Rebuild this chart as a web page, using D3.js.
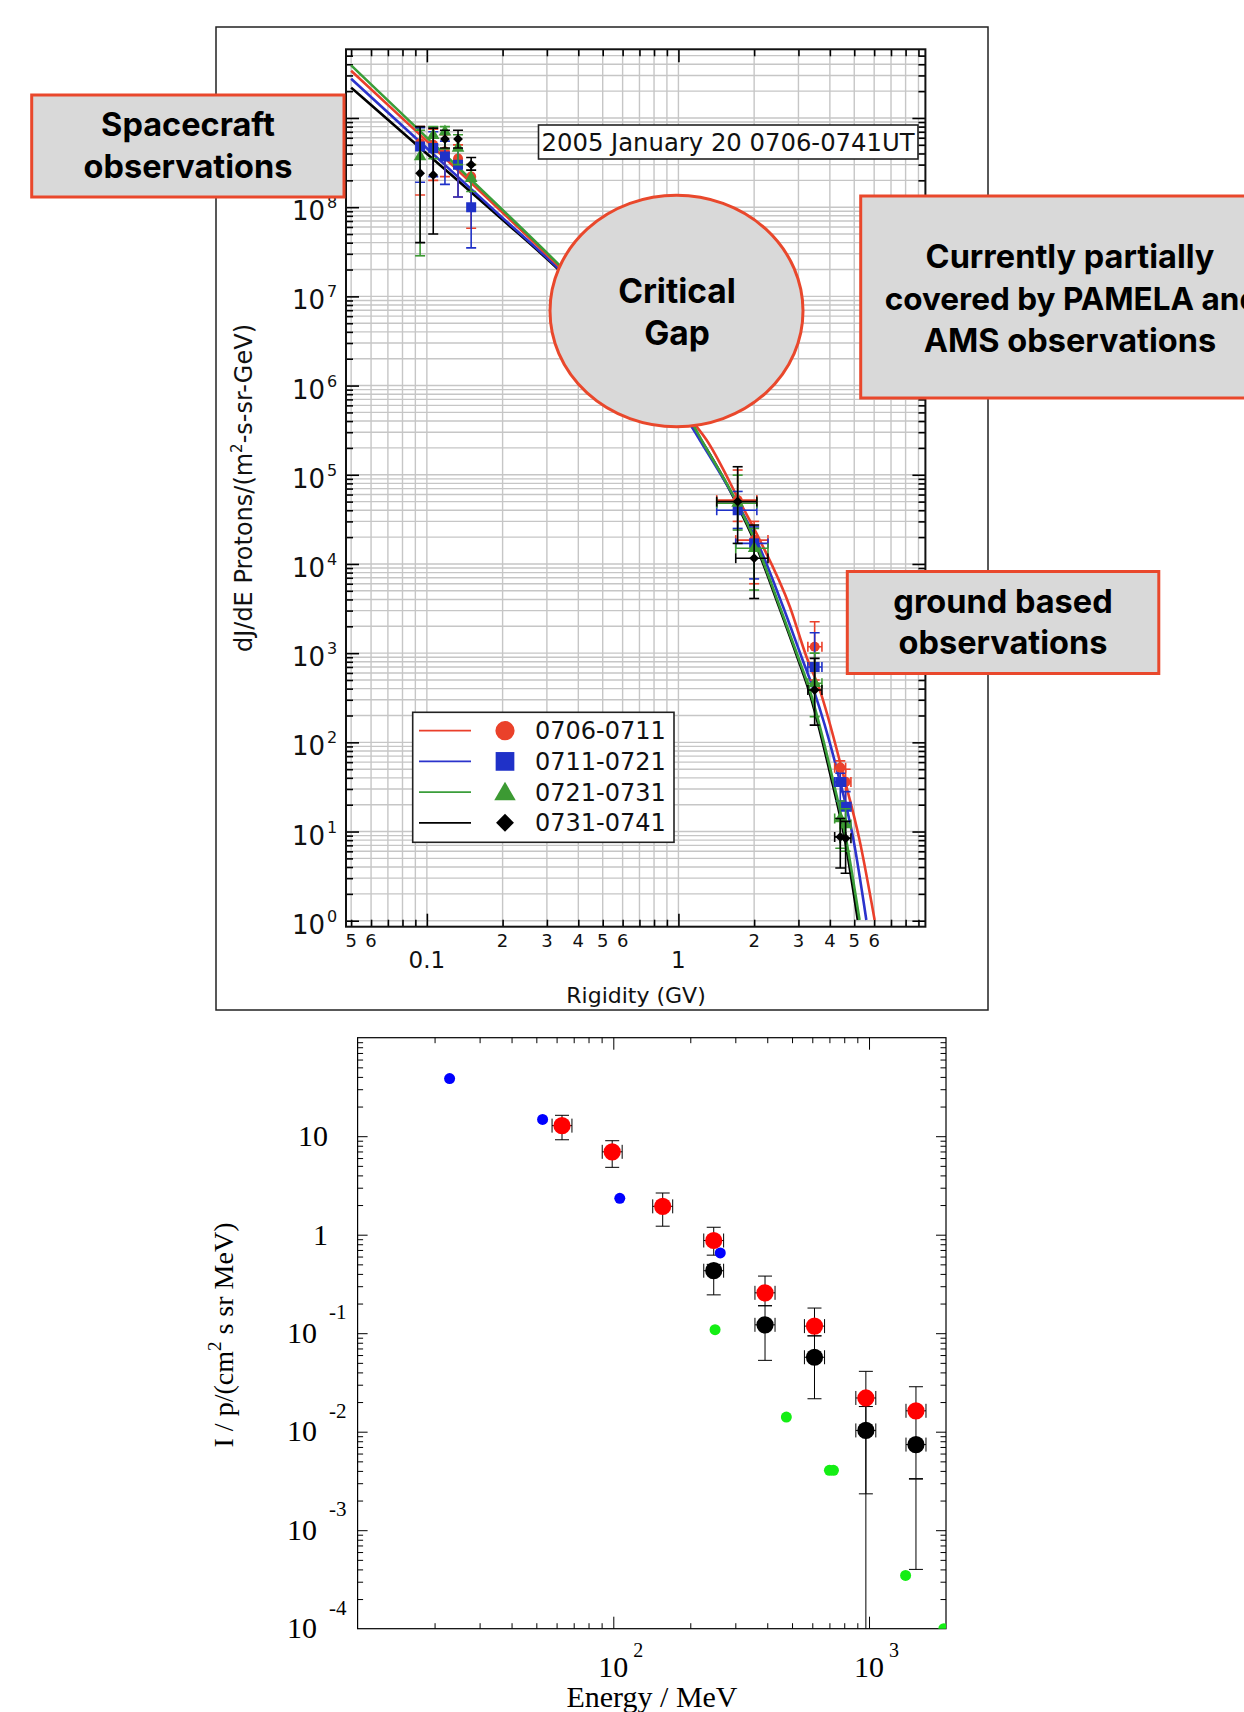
<!DOCTYPE html>
<html><head><meta charset="utf-8">
<script src="https://cdn.jsdelivr.net/npm/d3@7"></script>
<style>body{margin:0;background:#fff}svg{display:block}</style>
</head><body>
<svg id="c" width="1244" height="1712"></svg>
<script>
// ================= DATA =================
// --- Top chart: proton spectra, 2005 January 20 ---
const seriesLabels = ["0706-0711", "0711-0721", "0721-0731", "0731-0741"];

// fitted spectra (rigidity GV, dJ/dE)
const fitRig_0706 = [0.05, 0.1, 0.2, 0.331, 0.631, 1.122, 1.294, 1.754, 2.106, 2.773, 3.228, 3.648, 4.508, 5.248, 6.026];
const fitFlux_0706 = [3.39e9, 5.50e8, 8.71e7, 2.24e7, 3.55e6, 4.17e5, 2.45e5, 4.98e4, 1.85e4, 3.31e3, 912, 385, 44.9, 8.04, 1.02];
const fitRig_0711 = [0.05, 0.1, 0.2, 0.331, 0.631, 1.122, 1.216, 1.702, 2.042, 2.606, 3.083, 3.451, 4.305, 4.966, 5.585];
const fitFlux_0711 = [2.75e9, 4.57e8, 7.59e7, 2.09e7, 3.16e6, 3.55e5, 2.45e5, 4.98e4, 1.85e4, 3.31e3, 912, 385, 44.9, 8.04, 1.02];
const fitRig_0721 = [0.05, 0.1, 0.2, 0.331, 0.631, 1.122, 1.236, 1.702, 2.012, 2.529, 2.989, 3.327, 4.055, 4.645, 5.248];
const fitFlux_0721 = [3.89e9, 6.03e8, 9.33e7, 2.34e7, 3.55e6, 3.98e5, 2.45e5, 4.98e4, 1.85e4, 3.31e3, 912, 385, 44.9, 8.04, 1.02];
const fitRig_0731 = [0.05, 0.1, 0.2, 0.331, 0.631, 1.122, 1.230, 1.690, 1.995, 2.512, 2.965, 3.296, 4.009, 4.592, 5.164];
const fitFlux_0731 = [2.19e9, 3.98e8, 7.24e7, 2.04e7, 3.16e6, 3.63e5, 2.45e5, 4.98e4, 1.85e4, 3.31e3, 912, 385, 44.9, 8.04, 1.02];

// observations (spacecraft: first five, ground based: last five)
const obsRig   = [0.094, 0.106, 0.118, 0.133, 0.150, 1.72, 2.00, 3.48, 4.40, 4.62];
const obsRigLo = [0.094, 0.106, 0.118, 0.133, 0.150, 1.42, 1.69, 3.27, 4.18, 4.40];
const obsRigHi = [0.094, 0.106, 0.118, 0.133, 0.150, 2.05, 2.27, 3.72, 4.62, 4.85];

const obsFlux_0706 = [5.2e8, 5.0e8, 4.2e8, 3.5e8, 2.2e8, 5.2e4, 1.85e4, 1.18e3, 52, 36];
const obsLo_0706   = [1.37e8, 2.0e8, 2.2e8, 1.3e8, 5.8e7, 3.0e4, 6.0e3, 5.0e2, 35, 20];
const obsHi_0706   = [8.0e8, 7.5e8, 6.5e8, 5.0e8, 3.0e8, 1.13e5, 3.0e4, 2.25e3, 62, 50];

const obsFlux_0711 = [4.8e8, 4.6e8, 3.7e8, 3.0e8, 1.0e8, 4.0e4, 1.7e4, 7.0e2, 36, 19];
const obsLo_0711   = [1.9e8, 2.2e8, 1.8e8, 1.3e8, 3.5e7, 2.5e4, 6.8e3, 4.4e2, 22, 12];
const obsHi_0711   = [7.8e8, 7.0e8, 5.5e8, 4.5e8, 2.0e8, 6.5e4, 2.6e4, 1.69e3, 45, 28];

const obsFlux_0721 = [3.7e8, 6.4e8, 7.0e8, 4.6e8, 2.1e8, 4.8e4, 1.5e4, 4.6e2, 14, 12];
const obsLo_0721   = [2.85e7, 3.5e8, 4.5e8, 3.0e8, 1.5e8, 2.4e4, 5.1e3, 1.94e2, 6.5, 6];
const obsHi_0721   = [7.3e8, 8.0e8, 8.0e8, 6.5e8, 3.0e8, 9.9e4, 2.5e4, 1.0e3, 22, 18];

const obsFlux_0731 = [2.4e8, 2.3e8, 5.8e8, 5.8e8, 3.0e8, 5.0e4, 1.16e4, 3.86e2, 8.7, 8.4];
const obsLo_0731   = [4.0e7, 5.0e7, 4.6e8, 4.6e8, 2.6e8, 1.7e4, 4.1e3, 1.56e2, 3.9, 3.4];
const obsHi_0731   = [8.0e8, 7.7e8, 7.3e8, 7.3e8, 3.6e8, 1.23e5, 2.73e4, 8.74e2, 14, 13];

const topTitle = "2005 January 20 0706-0741UT";
const topXTickValues = [0.05, 0.06, 0.2, 0.3, 0.4, 0.5, 0.6, 2, 3, 4, 5, 6];
const topXTickLabels = ["5", "6", "2", "3", "4", "5", "6", "2", "3", "4", "5", "6"];
const topXMajorValues = [0.1, 1];
const topXMajorLabels = ["0.1", "1"];
const topYExponents = [0, 1, 2, 3, 4, 5, 6, 7, 8, 9];

// --- Bottom chart: I / p vs Energy ---
const redE   = [63, 99, 156, 247, 392, 612, 972, 1526];
const redI   = [12.8, 6.94, 1.94, 0.873, 0.257, 0.118, 0.022, 0.0163];
const redILo = [9.2, 4.83, 1.22, 0.62, 0.19, 0.094, 0.00234, 0.00334];
const redIHi = [16.3, 9.0, 2.65, 1.19, 0.38, 0.18, 0.041, 0.0286];
const redELo = [57.6, 90.5, 142.6, 225.8, 358, 559, 888, 1395];
const redEHi = [68.9, 108.3, 170.7, 270, 429, 670, 1063, 1670];

const blackE   = [247, 392, 612, 972, 1526];
const blackI   = [0.431, 0.1216, 0.057, 0.0103, 0.0074];
const blackILo = [0.245, 0.053, 0.0216, 0.00001, 0.0004];
const blackIHi = [0.5, 0.19, 0.094, 0.018, 0.0033];
const blackELo = [225.8, 358, 559, 888, 1395];
const blackEHi = [270, 429, 670, 1063, 1670];

const blueE = [22.9, 52.9, 106, 262];
const blueI = [38.5, 14.8, 2.34, 0.653];

const greenE = [250, 475, 700, 726, 1390, 1961];
const greenI = [0.1085, 0.01406, 0.00405, 0.00405, 3.47e-4, 1.0e-4];

const botYTickValues = [10, 1, 0.1, 0.01, 0.001, 0.0001];
const botYTickBase   = ["10", "1", "10", "10", "10", "10"];
const botYTickExp    = ["", "", "-1", "-2", "-3", "-4"];
const botXTickValues = [100, 1000];
const botXTickExp    = ["2", "3"];

// ================= STYLES =================
const topColor = {"0706-0711": "#ea412a", "0711-0721": "#1f31c8", "0721-0731": "#3c9a33", "0731-0741": "#000000"};
const fitColor = {"0706-0711": "#ea3f2b", "0711-0721": "#2b33cc", "0721-0731": "#3a9e3a", "0731-0741": "#000000"};
const annoFill = "#d9d9d9", annoStroke = "#e9482c";
const topFont = "'DejaVu Sans', Verdana, sans-serif";
const serif = "'Liberation Serif', 'Times New Roman', serif";
const boldFont = "Inter, 'Open Sans', Lato, sans-serif";

const svg = d3.select("#c");
const defs = svg.append("defs");

function inwardTicks(scale, orient, pos, values, len, sw) {
  const mk = {bottom: d3.axisBottom, top: d3.axisTop, left: d3.axisLeft, right: d3.axisRight}[orient];
  const tr = (orient === "bottom" || orient === "top") ? `translate(0,${pos})` : `translate(${pos},0)`;
  const g = svg.append("g").attr("transform", tr)
    .call(mk(scale).tickValues(values).tickSize(-len).tickFormat(""));
  g.select(".domain").remove();
  g.selectAll(".tick text").remove();
  g.selectAll(".tick line").attr("stroke", "#000").attr("stroke-width", sw);
}

// ================= TOP CHART =================
const TL = 346, TR = 925.4, TT = 49.3, TB = 926.7;
const xT = d3.scaleLog().domain([0.0477, 9.59]).range([TL, TR]);
const yT = d3.scaleLog().domain([0.857, 5.89e9]).range([TB, TT]);

// outer figure frame
svg.append("rect").attr("x", 216).attr("y", 27).attr("width", 772).attr("height", 983)
  .attr("fill", "#fff").attr("stroke", "#222").attr("stroke-width", 1.5);

defs.append("clipPath").attr("id", "clipT").append("rect")
  .attr("x", TL).attr("y", TT).attr("width", TR - TL).attr("height", TB - TT);

const xGrid = xT.ticks().filter(v => v > xT.domain()[0] && v < xT.domain()[1]);
const yGrid = yT.ticks(20).filter(v => v >= 1 && v < yT.domain()[1]);
const gridG = svg.append("g");
gridG.selectAll(".gx").data(xGrid).join("line")
  .attr("x1", d => xT(d)).attr("x2", d => xT(d)).attr("y1", TT).attr("y2", TB)
  .attr("stroke", "#c6c6c6").attr("stroke-width", 1.4);
gridG.selectAll(".gy").data(yGrid).join("line")
  .attr("x1", TL).attr("x2", TR).attr("y1", d => yT(d)).attr("y2", d => yT(d))
  .attr("stroke", "#c6c6c6").attr("stroke-width", 1.4);

// ticks
const isDecade = v => Math.abs(Math.log10(v) - Math.round(Math.log10(v))) < 1e-9;
const xMaj = xGrid.filter(isDecade), xMin = xGrid.filter(v => !isDecade(v));
const yMaj = yGrid.filter(isDecade), yMin = yGrid.filter(v => !isDecade(v));
inwardTicks(xT, "bottom", TB, xMaj, 13, 1.6);
inwardTicks(xT, "bottom", TB, xMin, 7, 1.6);
inwardTicks(xT, "top", TT, xMaj, 13, 1.6);
inwardTicks(xT, "top", TT, xMin, 7, 1.6);
inwardTicks(yT, "left", TL, yMaj, 13, 1.6);
inwardTicks(yT, "left", TL, yMin, 7, 1.6);
inwardTicks(yT, "right", TR, yMaj, 13, 1.6);
inwardTicks(yT, "right", TR, yMin, 7, 1.6);

svg.append("rect").attr("x", TL).attr("y", TT).attr("width", TR - TL).attr("height", TB - TT)
  .attr("fill", "none").attr("stroke", "#111").attr("stroke-width", 2);

// tick labels
const tlab = svg.append("g").attr("font-family", topFont).attr("fill", "#111");
topXTickValues.forEach((v, i) => {
  tlab.append("text").attr("x", xT(v)).attr("y", 947).attr("text-anchor", "middle")
    .attr("font-size", 18).text(topXTickLabels[i]);
});
topXMajorValues.forEach((v, i) => {
  tlab.append("text").attr("x", xT(v)).attr("y", 968).attr("text-anchor", "middle")
    .attr("font-size", 23).text(topXMajorLabels[i]);
});
topYExponents.forEach(e => {
  const y = yT(Math.pow(10, e));
  tlab.append("text").attr("x", 325).attr("y", y + 13).attr("text-anchor", "end")
    .attr("font-size", 26).text("10");
  tlab.append("text").attr("x", 327).attr("y", y + 1).attr("font-size", 16).text(e);
});
tlab.append("text").attr("x", 636).attr("y", 1003).attr("text-anchor", "middle")
  .attr("font-size", 22).text("Rigidity (GV)");
const yt = tlab.append("text").attr("transform", "translate(252,488) rotate(-90)")
  .attr("text-anchor", "middle").attr("font-size", 24);
yt.append("tspan").text("dJ/dE Protons/(m");
yt.append("tspan").attr("font-size", 15).attr("dy", -10).text("2");
yt.append("tspan").attr("dy", 10).text("-s-sr-GeV)");

// fit curves
const fits = [
  ["0731-0741", fitRig_0731, fitFlux_0731],
  ["0711-0721", fitRig_0711, fitFlux_0711],
  ["0706-0711", fitRig_0706, fitFlux_0706],
  ["0721-0731", fitRig_0721, fitFlux_0721]
];
const lineT = d3.line().x(d => xT(d[0])).y(d => yT(d[1])).curve(d3.curveMonotoneX);
const fitG = svg.append("g").attr("clip-path", "url(#clipT)");
fits.forEach(([name, r, f]) => {
  fitG.append("path").datum(r.map((v, i) => [v, f[i]])).attr("d", lineT)
    .attr("fill", "none").attr("stroke", fitColor[name]).attr("stroke-width", 2.6);
});

// observations
const obsSets = [
  ["0706-0711", obsFlux_0706, obsLo_0706, obsHi_0706, "circle"],
  ["0711-0721", obsFlux_0711, obsLo_0711, obsHi_0711, "square"],
  ["0721-0731", obsFlux_0721, obsLo_0721, obsHi_0721, "triangle"],
  ["0731-0741", obsFlux_0731, obsLo_0731, obsHi_0731, "diamond"]
];
function symPath(kind, size) {
  const t = {circle: d3.symbolCircle, square: d3.symbolSquare, triangle: d3.symbolTriangle, diamond: d3.symbolSquare}[kind];
  return d3.symbol().type(t).size(size)();
}
const symSize = {circle: 80, square: 100, triangle: 70, diamond: 48};
const obsG = svg.append("g").attr("clip-path", "url(#clipT)");
obsSets.forEach(([name, flux, lo, hi, kind]) => {
  const col = topColor[name];
  const g = obsG.append("g").attr("stroke", col).attr("stroke-width", 1.6).attr("fill", "none");
  obsRig.forEach((r, i) => {
    const x = xT(r), y1 = yT(lo[i]), y2 = yT(hi[i]);
    g.append("line").attr("x1", x).attr("x2", x).attr("y1", y1).attr("y2", y2);
    g.append("line").attr("x1", x - 5).attr("x2", x + 5).attr("y1", y1).attr("y2", y1);
    g.append("line").attr("x1", x - 5).attr("x2", x + 5).attr("y1", y2).attr("y2", y2);
    if (obsRigHi[i] > obsRigLo[i]) {
      const y = yT(flux[i]), xa = xT(obsRigLo[i]), xb = xT(obsRigHi[i]);
      g.append("line").attr("x1", xa).attr("x2", xb).attr("y1", y).attr("y2", y);
      g.append("line").attr("x1", xa).attr("x2", xa).attr("y1", y - 5).attr("y2", y + 5);
      g.append("line").attr("x1", xb).attr("x2", xb).attr("y1", y - 5).attr("y2", y + 5);
    }
  });
  obsRig.forEach((r, i) => {
    obsG.append("path").attr("d", symPath(kind, symSize[kind]))
      .attr("transform", `translate(${xT(r)},${yT(flux[i])})${kind === "diamond" ? " rotate(45)" : ""}`)
      .attr("fill", col);
  });
});

// legend
const lg = svg.append("g").attr("font-family", topFont);
lg.append("rect").attr("x", 412.7).attr("y", 712.3).attr("width", 261.3).attr("height", 130)
  .attr("fill", "#fff").attr("stroke", "#222").attr("stroke-width", 1.6);
const legKinds = ["circle", "square", "triangle", "diamond"];
const legSize = {circle: 290, square: 350, triangle: 200, diamond: 160};
seriesLabels.forEach((name, i) => {
  const cy = 730.7 + i * 30.7;
  lg.append("line").attr("x1", 419).attr("x2", 471).attr("y1", cy).attr("y2", cy)
    .attr("stroke", fitColor[name]).attr("stroke-width", 1.8);
  const k = legKinds[i];
  lg.append("path").attr("d", symPath(k, legSize[k]))
    .attr("transform", `translate(505,${cy + (k === "triangle" ? 2 : 0)})${k === "diamond" ? " rotate(45)" : ""}`)
    .attr("fill", topColor[name]);
  lg.append("text").attr("x", 535).attr("y", cy + 8.6).attr("font-size", 24).attr("fill", "#111").text(name);
});

// title box
svg.append("rect").attr("x", 538.5).attr("y", 125).attr("width", 379.5).attr("height", 34)
  .attr("fill", "#fff").attr("stroke", "#222").attr("stroke-width", 1.6);
svg.append("text").attr("x", 541.5).attr("y", 150.5).attr("font-family", topFont)
  .attr("font-size", 24.3).attr("fill", "#111").text(topTitle);

// ================= ANNOTATIONS =================
function box(x, y, w, h) {
  svg.append("rect").attr("x", x).attr("y", y).attr("width", w).attr("height", h)
    .attr("fill", annoFill).attr("stroke", annoStroke).attr("stroke-width", 3);
}
function label(lines, cxs, baselines, sizes) {
  const g = svg.append("g").attr("font-family", boldFont).attr("font-weight", 700)
    .attr("fill", "#000").attr("text-anchor", "middle");
  lines.forEach((t, i) => g.append("text").attr("x", cxs[i]).attr("y", baselines[i])
    .attr("font-size", sizes[i]).text(t));
}
box(31.7, 95, 312.3, 102);
label(["Spacecraft", "observations"], [188, 188], [135.5, 177.5], [32.5, 32.5]);

svg.append("ellipse").attr("cx", 676.5).attr("cy", 311).attr("rx", 126.5).attr("ry", 115.7)
  .attr("fill", annoFill).attr("stroke", annoStroke).attr("stroke-width", 3);
label(["Critical", "Gap"], [677, 677], [303, 345], [33.5, 33.5]);

box(860.7, 196, 420, 202);
label(["Currently partially", "covered by PAMELA and", "AMS observations"], [1070, 1072, 1070],
  [267.5, 309.5, 351.5], [32.5, 31.5, 32.5]);

box(847.3, 571.5, 311.5, 102);
label(["ground based", "observations"], [1003, 1003], [613, 654], [32.5, 32.5]);

// ================= BOTTOM CHART =================
const BL = 357.6, BR = 946, BT = 1037.7, BB = 1628.7;
const xB = d3.scaleLog().domain([10, 2000]).range([BL, BR]);
const yB = d3.scaleLog().domain([1e-4, 100]).range([BB, BT]);

defs.append("clipPath").attr("id", "clipB").append("rect")
  .attr("x", BL).attr("y", BT).attr("width", BR - BL).attr("height", BB - BT);

const bxAll = xB.ticks().filter(v => v > 10 && v < 2000);
const byAll = yB.ticks(20).filter(v => v > 1e-4 * 1.0001 && v < 100 * 0.9999);
const bxMaj = bxAll.filter(isDecade), bxMin = bxAll.filter(v => !isDecade(v));
const byMaj = byAll.filter(isDecade), byMin = byAll.filter(v => !isDecade(v));
inwardTicks(xB, "bottom", BB, bxMaj, 12, 1);
inwardTicks(xB, "bottom", BB, bxMin, 5.5, 1);
inwardTicks(xB, "top", BT, bxMaj, 12, 1);
inwardTicks(xB, "top", BT, bxMin, 5.5, 1);
inwardTicks(yB, "left", BL, byMaj, 10, 1);
inwardTicks(yB, "left", BL, byMin, 5.5, 1);
inwardTicks(yB, "right", BR, byMaj, 10, 1);
inwardTicks(yB, "right", BR, byMin, 5.5, 1);
svg.append("rect").attr("x", BL).attr("y", BT).attr("width", BR - BL).attr("height", BB - BT)
  .attr("fill", "none").attr("stroke", "#000").attr("stroke-width", 1.2);

const bl = svg.append("g").attr("font-family", serif).attr("fill", "#000");
botYTickValues.forEach((v, i) => {
  const y = yB(v);
  if (botYTickExp[i] === "") {
    bl.append("text").attr("x", 328).attr("y", y + 10).attr("text-anchor", "end")
      .attr("font-size", 30).text(botYTickBase[i]);
  } else {
    bl.append("text").attr("x", 317).attr("y", y + 9.5).attr("text-anchor", "end")
      .attr("font-size", 30).text(botYTickBase[i]);
    bl.append("text").attr("x", 329).attr("y", y - 14).attr("font-size", 21).text(botYTickExp[i]);
  }
});
botXTickValues.forEach((v, i) => {
  const x = xB(v);
  bl.append("text").attr("x", x).attr("y", 1677).attr("text-anchor", "middle")
    .attr("font-size", 30).text("10");
  bl.append("text").attr("x", x + 20).attr("y", 1656.5).attr("font-size", 20).text(botXTickExp[i]);
});
bl.append("text").attr("x", 652).attr("y", 1707).attr("text-anchor", "middle")
  .attr("font-size", 30).text("Energy / MeV");
const byt = bl.append("text").attr("transform", "translate(233,1335) rotate(-90)")
  .attr("text-anchor", "middle").attr("font-size", 28);
byt.append("tspan").text("I / p/(cm");
byt.append("tspan").attr("font-size", 19).attr("dy", -12).text("2");
byt.append("tspan").attr("dy", 12).text(" s sr MeV)");

const bm = svg.append("g").attr("clip-path", "url(#clipB)");
function errBars(E, I, lo, hi, eLo, eHi) {
  const g = bm.append("g").attr("stroke", "#000").attr("stroke-width", 1).attr("fill", "none");
  E.forEach((e, i) => {
    const x = xB(e), y = yB(I[i]), ya = yB(lo[i]), yb = yB(hi[i]);
    const xa = xB(eLo[i]), xb = xB(eHi[i]);
    g.append("line").attr("x1", x).attr("x2", x).attr("y1", ya).attr("y2", yb);
    g.append("line").attr("x1", x - 7).attr("x2", x + 7).attr("y1", ya).attr("y2", ya);
    g.append("line").attr("x1", x - 7).attr("x2", x + 7).attr("y1", yb).attr("y2", yb);
    g.append("line").attr("x1", xa).attr("x2", xb).attr("y1", y).attr("y2", y);
    g.append("line").attr("x1", xa).attr("x2", xa).attr("y1", y - 7).attr("y2", y + 7);
    g.append("line").attr("x1", xb).attr("x2", xb).attr("y1", y - 7).attr("y2", y + 7);
  });
}
errBars(redE, redI, redILo, redIHi, redELo, redEHi);
errBars(blackE, blackI, blackILo, blackIHi, blackELo, blackEHi);
function dots(E, I, r, col) {
  bm.append("g").selectAll("circle").data(E.map((e, i) => [e, I[i]])).join("circle")
    .attr("cx", d => xB(d[0])).attr("cy", d => yB(d[1])).attr("r", r).attr("fill", col);
}
dots(blueE, blueI, 5.5, "#0000ff");
dots(greenE, greenI, 5.5, "#14ee14");
dots(blackE, blackI, 8.6, "#000000");
dots(redE, redI, 8.6, "#ff0000");
</script>
</body></html>
